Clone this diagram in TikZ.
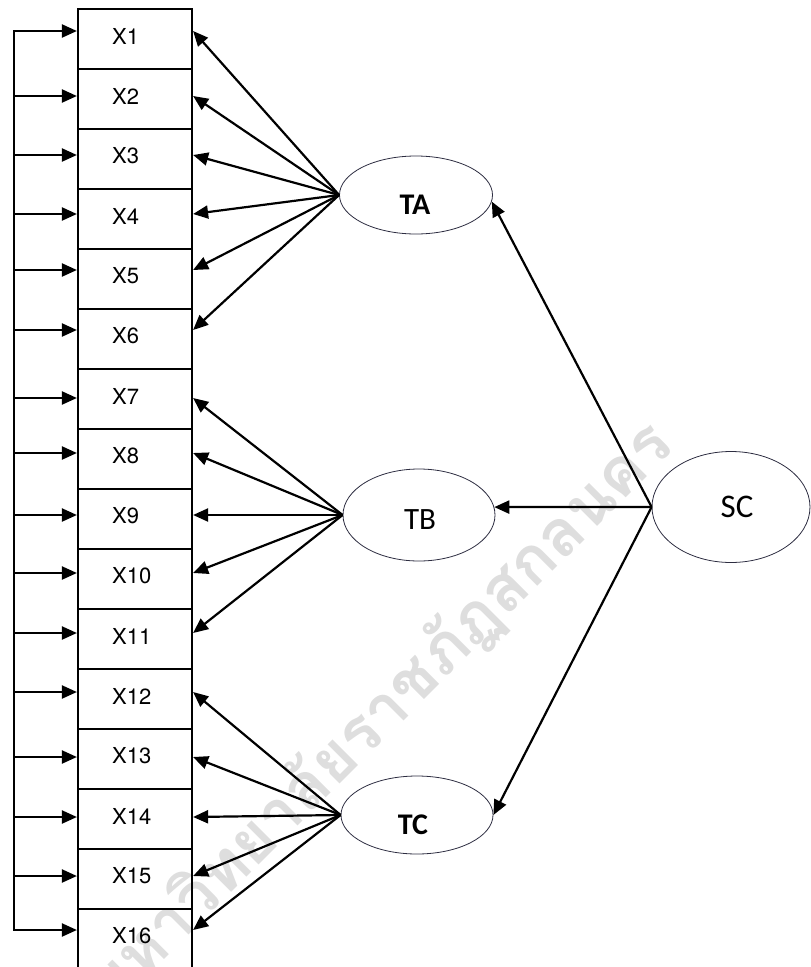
\documentclass[tikz,border=0pt]{standalone}
\usepackage{fontspec}
\setmainfont{TeX Gyre Heros}
\newfontfamily\calib{Carlito}
\newfontfamily\thaifont[Script=Thai]{Loma}
\usetikzlibrary{arrows.meta,shapes.geometric}
\definecolor{ellcol}{RGB}{45,45,65}
\definecolor{wmcol}{RGB}{222,222,222}
\begin{document}
\begin{tikzpicture}[x=1pt,y=-1pt,
  line/.style={line width=2.2pt, draw=black},
  arr/.style={line, -{Triangle[length=15pt,width=13pt]}},
  obs/.style={draw=black, line width=2.2pt, minimum width=114pt, minimum height=60pt, inner sep=0pt},
  lat/.style={ellipse, draw=ellcol, line width=0.8pt, inner sep=0pt},
  xlab/.style={font=\fontsize{22}{24}\selectfont, inner sep=0pt, anchor=west},
  llab/.style={font=\calib\fontsize{31}{34}\selectfont, inner sep=0pt},
  blab/.style={font=\calib\bfseries\fontsize{30}{34}\selectfont, inner sep=0pt}
]
\useasboundingbox (0,0) rectangle (811,967);

% watermark
\node[rotate=45, text=wmcol, inner sep=0pt, font=\thaifont\bfseries\fontsize{65}{74}\selectfont] (wm) at (380,716) {มหาวิทยาลัยราชภัฏสกลนคร};

% observed variables
\foreach \i in {1,...,16}{
  \node[obs] (b\i) at (135,{39+60*(\i-1)}) {};
  \node[xlab] (t\i) at (112,{36+60*(\i-1)}) {X\i};
}

% latent variables
\node[lat, minimum width=153pt, minimum height=78pt] (TA) at (416,195) {};
\node[lat, minimum width=152pt, minimum height=92pt] (TB) at (419,515) {};
\node[lat, minimum width=152pt, minimum height=78pt] (TC) at (417,815) {};
\node[lat, minimum width=158pt, minimum height=111pt] (SC) at (731,507) {};
\node[blab] (TAl) at (415,205) {TA};
\node[llab] (TBl) at (420,520) {TB};
\node[blab] (TCl) at (413,825) {TC};
\node[llab, font=\calib\fontsize{33}{36}\selectfont] (SCl) at (737,507) {SC};

% left rail with arrows into each box
\foreach \i/\s in {1/8,2/3,3/4,4/5,5/9,6/9,7/1,8/6,9/4,10/6,11/6,12/7,13/2,14/2,15/3,16/9}{
  \coordinate (l\i) at (14,{39+60*(\i-1)-\s});
  \draw[arr] (l\i) -- ([yshift=\s pt]b\i.west);
}
\draw[line, line cap=rect] (l1) -- (l16);

% loadings
\foreach \i/\s in {1/8,2/3,3/4,4/5,5/9,6/9}
  \draw[arr] (TA.west) -- ([yshift=\s pt]b\i.east);
\foreach \i/\s in {7/1,8/6,9/4,10/6,11/6}
  \draw[arr] (TB.west) -- ([yshift=\s pt]b\i.east);
\foreach \i/\s in {12/7,13/2,14/2,15/3,16/9}
  \draw[arr] (TC.west) -- ([yshift=\s pt]b\i.east);

% second order
\draw[arr] (SC.west) -- (TA.-5);
\draw[arr] (SC.west) -- (TB.6);
\draw[arr] (SC.west) -- (TC.east);
\end{tikzpicture}
\end{document}
